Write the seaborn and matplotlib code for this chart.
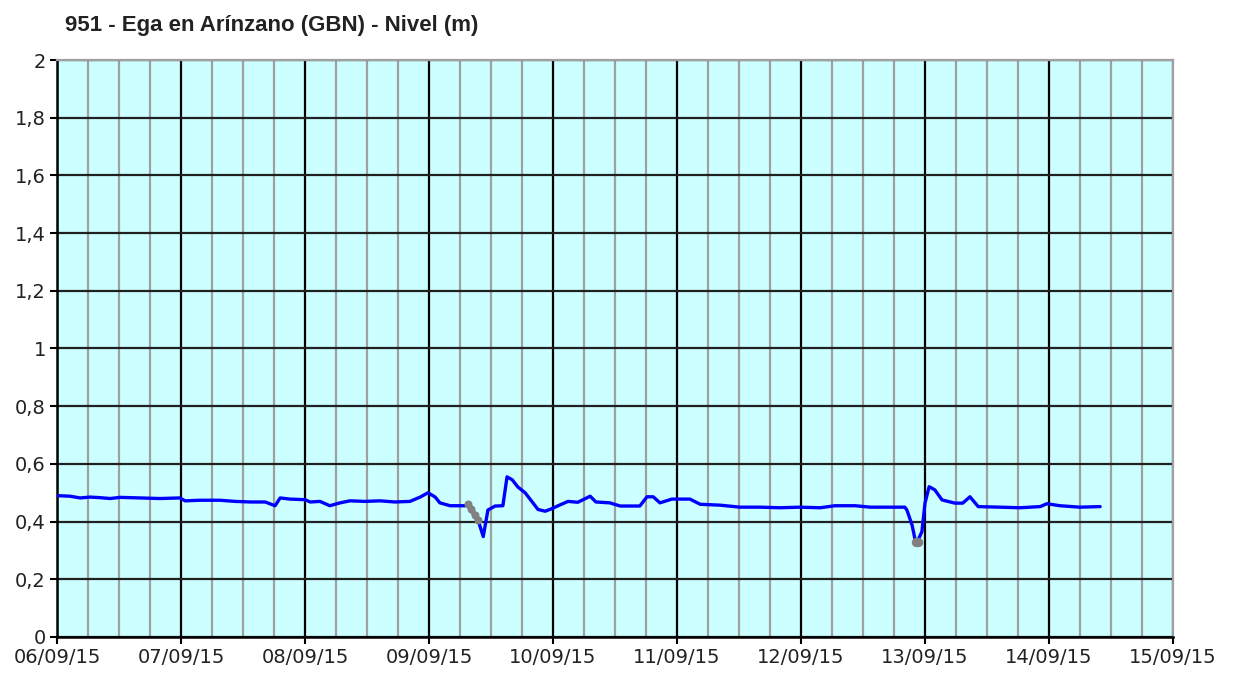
import pandas as pd
import matplotlib
matplotlib.use("Agg")
import matplotlib.pyplot as plt
import matplotlib.dates as mdates
from matplotlib.ticker import MultipleLocator, FuncFormatter
import seaborn as sns

# ==========================================
# DATA (hours from 06/09/15 00:00, level in m)
# ==========================================
START = pd.Timestamp("2015-09-06 00:00")
END = pd.Timestamp("2015-09-15 00:00")
TITLE = "951 - Ega en Arínzano (GBN) - Nivel (m)"

HOURS = [0, 2.5, 4.5, 6.4, 8.3, 10.3, 12.2, 16.1, 19.9, 23.8,
         24.8, 27.7, 31.5, 34.5, 37.4, 40.3, 42.2, 43.2, 45.1, 48.0,
         49.0, 50.9, 52.8, 54.8, 56.7, 59.6, 62.5, 65.4, 68.3, 70.3,
         71.8, 73.2, 74.1, 76.1, 79.0, 79.5, 81.5, 82.5, 83.4, 84.8,
         86.3, 87.1, 88.1, 89.2, 90.6, 91.9, 93.1, 94.5, 95.8, 97.0,
         98.9, 100.8, 103.2, 104.3, 107.0, 109.0, 112.8, 114.2, 115.4, 116.7,
         119.0, 122.5, 124.5, 128.3, 132.2, 136.1, 139.9, 143.8, 147.7, 150.6,
         154.5, 157.4, 161.2, 164.1, 164.5, 165.5, 166.1, 166.5, 167.4, 168.0,
         168.8, 169.9, 171.3, 173.8, 175.3, 176.7, 178.3, 182.5, 186.4, 190.3,
         191.6, 194.1, 198.0, 201.9]
LEVEL = [0.490, 0.488, 0.482, 0.485, 0.483, 0.480, 0.484, 0.482, 0.480, 0.482,
         0.472, 0.474, 0.474, 0.470, 0.468, 0.468, 0.455, 0.482, 0.478, 0.476,
         0.468, 0.470, 0.455, 0.465, 0.472, 0.470, 0.472, 0.468, 0.470, 0.485,
         0.500, 0.485, 0.465, 0.455, 0.455, 0.462, 0.405, 0.348, 0.440, 0.454,
         0.455, 0.555, 0.545, 0.520, 0.500, 0.470, 0.442, 0.436, 0.445, 0.455,
         0.470, 0.467, 0.488, 0.468, 0.465, 0.454, 0.454, 0.486, 0.486, 0.465,
         0.478, 0.478, 0.460, 0.457, 0.450, 0.450, 0.448, 0.450, 0.448, 0.455,
         0.455, 0.450, 0.450, 0.450, 0.440, 0.388, 0.336, 0.330, 0.365, 0.464,
         0.521, 0.510, 0.475, 0.464, 0.464, 0.486, 0.452, 0.450, 0.448, 0.452,
         0.462, 0.455, 0.450, 0.452]

# points flagged (drawn grey)
GRAY_HOURS = [79.5, 80.2, 80.9, 81.5]
GRAY_LEVEL = [0.462, 0.442, 0.422, 0.405]
GRAY_DOT_HOURS = [166.3, 166.6]
GRAY_DOT_LEVEL = [0.331, 0.330]


def to_df(hours, vals):
    return pd.DataFrame({"fecha": START + pd.to_timedelta(hours, unit="h"), "nivel": vals})


def main():
    sns.set_style("white", {"axes.facecolor": "#CCFFFF"})
    plt.rcParams["font.family"] = ["DejaVu Sans"]

    fig = plt.figure(figsize=(12.33, 6.77), dpi=100)
    ax = fig.add_axes([57 / 1233, 40 / 677, 1116 / 1233, 577 / 677])

    df = to_df(HOURS, LEVEL)
    sns.lineplot(data=df, x="fecha", y="nivel", color="#0000FF", lw=2.4, ax=ax, zorder=5)
    sns.lineplot(data=to_df(GRAY_HOURS, GRAY_LEVEL), x="fecha", y="nivel",
                 color="#808080", lw=4, marker="o", markersize=5, mec="#808080", ax=ax, zorder=6)
    sns.lineplot(data=to_df(GRAY_DOT_HOURS, GRAY_DOT_LEVEL), x="fecha", y="nivel",
                 color="#808080", lw=4, marker="o", markersize=6, mec="#808080", ax=ax, zorder=6)

    ax.set_xlim(START, END)
    ax.set_ylim(0, 2)

    ax.xaxis.set_major_locator(mdates.DayLocator())
    ax.xaxis.set_minor_locator(mdates.HourLocator(byhour=[6, 12, 18]))
    ax.xaxis.set_major_formatter(mdates.DateFormatter("%d/%m/%y"))
    ax.yaxis.set_major_locator(MultipleLocator(0.2))
    ax.yaxis.set_major_formatter(FuncFormatter(lambda v, p: f"{v:g}".replace(".", ",")))

    ax.grid(which="major", axis="y", color="#202020", lw=1.6)
    ax.grid(which="major", axis="x", color="#000000", lw=1.6)
    ax.grid(which="minor", axis="x", color="#A0A0A0", lw=1.6)
    ax.set_axisbelow(True)

    for s in ["left", "bottom"]:
        ax.spines[s].set_color("#000000")
        ax.spines[s].set_linewidth(1.8)
    for s in ["top", "right"]:
        ax.spines[s].set_color("#A0A0A0")
        ax.spines[s].set_linewidth(1.6)

    ax.tick_params(axis="both", which="major", direction="out", length=5, width=1.5,
                   color="#000000", labelsize=14, labelcolor="#222222", pad=3,
                   left=True, bottom=True)
    ax.tick_params(axis="x", which="minor", length=0)
    ax.set_xlabel("")
    ax.set_ylabel("")
    if ax.get_legend():
        ax.get_legend().remove()

    fig.text(65 / 1233, 1 - 25 / 677, TITLE, fontsize=16, fontweight="bold",
             family=["Liberation Sans", "DejaVu Sans"],
             color="#222222", ha="left", va="center")

    fig.savefig("out.png", dpi=100, facecolor="white")


if __name__ == "__main__":
    main()
